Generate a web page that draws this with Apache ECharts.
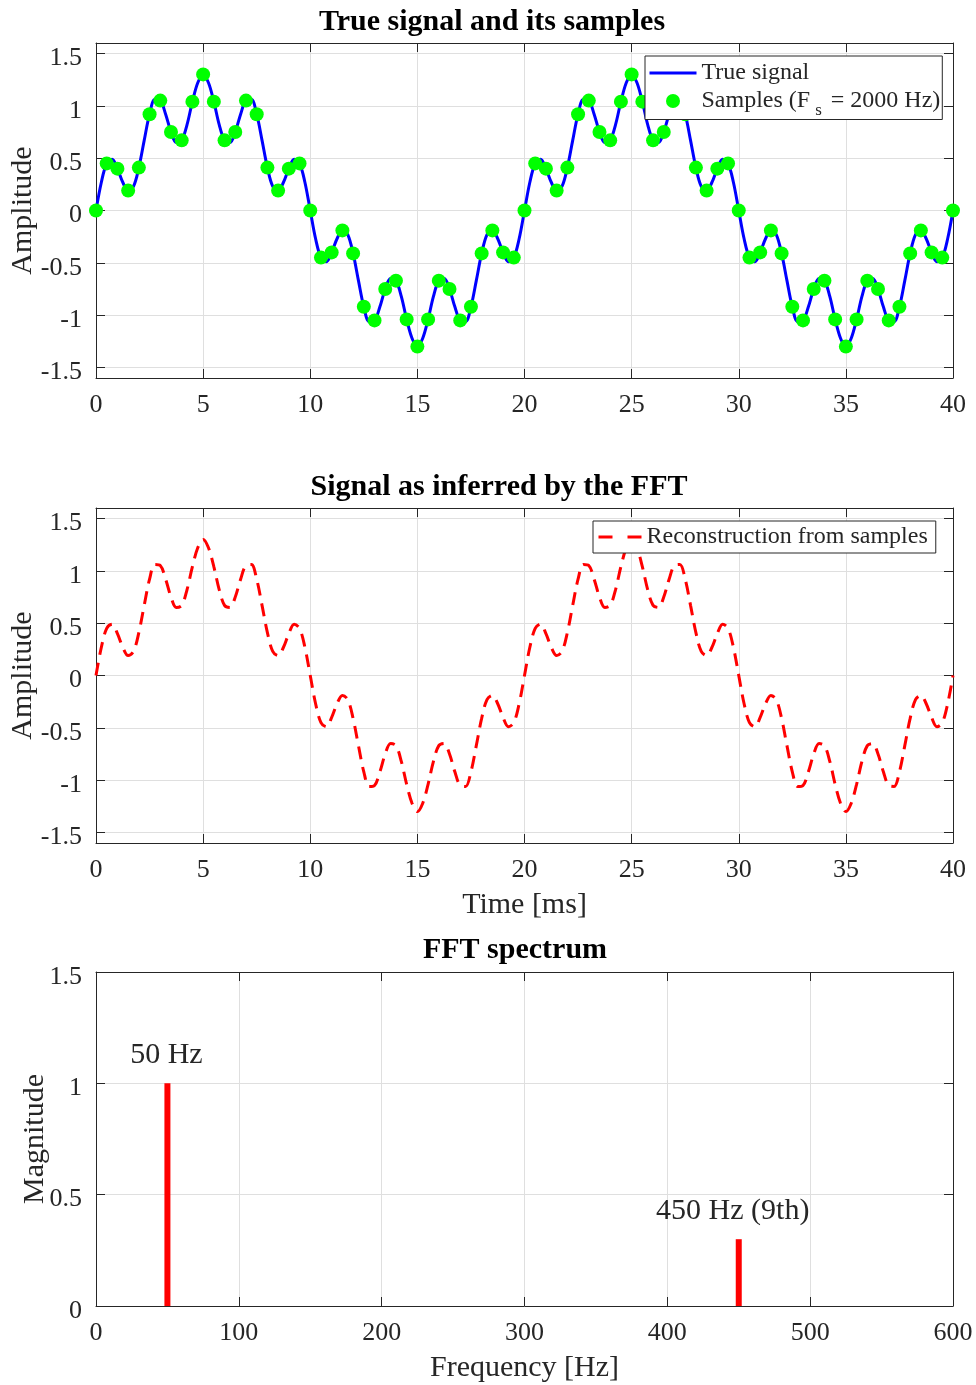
<!DOCTYPE html>
<html>
<head>
<meta charset="utf-8">
<title>Sampling and FFT of a 50 Hz signal with its 9th harmonic</title>
<script src="https://cdn.jsdelivr.net/npm/echarts@6/dist/echarts.min.js"></script>
<style>
  html, body { margin: 0; padding: 0; background: #ffffff; }
  #chart { width: 976px; height: 1385px; }
</style>
</head>
<body>
<div id="chart"></div>
<script>
// ---- data -------------------------------------------------------------
// Continuous signal, tabulated every 0.25 ms from 0 to 40 ms (amplitude)
const fineStepMs = 0.25;
const trueSignal = [
  0, 0.27, 0.45, 0.49, 0.40, 0.27, 0.19, 0.23, 0.41, 0.67,
  0.92, 1.06, 1.05, 0.92, 0.75, 0.65, 0.67, 0.82, 1.04, 1.22,
  1.30, 1.22, 1.04, 0.82, 0.67, 0.65, 0.75, 0.92, 1.05, 1.06,
  0.92, 0.67, 0.41, 0.23, 0.19, 0.27, 0.40, 0.49, 0.45, 0.27,
  0,
  -0.27, -0.45, -0.49, -0.40, -0.27, -0.19, -0.23, -0.41, -0.67, -0.92,
  -1.06, -1.05, -0.92, -0.75, -0.65, -0.67, -0.82, -1.04, -1.22, -1.30,
  -1.22, -1.04, -0.82, -0.67, -0.65, -0.75, -0.92, -1.05, -1.06, -0.92,
  -0.67, -0.41, -0.23, -0.19, -0.27, -0.40, -0.49, -0.45, -0.27, 0,
  0.27, 0.45, 0.49, 0.40, 0.27, 0.19, 0.23, 0.41, 0.67, 0.92,
  1.06, 1.05, 0.92, 0.75, 0.65, 0.67, 0.82, 1.04, 1.22, 1.30,
  1.22, 1.04, 0.82, 0.67, 0.65, 0.75, 0.92, 1.05, 1.06, 0.92,
  0.67, 0.41, 0.23, 0.19, 0.27, 0.40, 0.49, 0.45, 0.27, 0,
  -0.27, -0.45, -0.49, -0.40, -0.27, -0.19, -0.23, -0.41, -0.67, -0.92,
  -1.06, -1.05, -0.92, -0.75, -0.65, -0.67, -0.82, -1.04, -1.22, -1.30,
  -1.22, -1.04, -0.82, -0.67, -0.65, -0.75, -0.92, -1.05, -1.06, -0.92,
  -0.67, -0.41, -0.23, -0.19, -0.27, -0.40, -0.49, -0.45, -0.27, 0
];

// Samples taken at Fs = 2000 Hz, i.e. every 0.5 ms
const sampleStepMs = 0.5;
const samples = [
  0, 0.45, 0.40, 0.19, 0.41, 0.92, 1.05, 0.75, 0.67, 1.04,
  1.30, 1.04, 0.67, 0.75, 1.05, 0.92, 0.41, 0.19, 0.40, 0.45,
  0, -0.45, -0.40, -0.19, -0.41, -0.92, -1.05, -0.75, -0.67, -1.04,
  -1.30, -1.04, -0.67, -0.75, -1.05, -0.92, -0.41, -0.19, -0.40, -0.45,
  0, 0.45, 0.40, 0.19, 0.41, 0.92, 1.05, 0.75, 0.67, 1.04,
  1.30, 1.04, 0.67, 0.75, 1.05, 0.92, 0.41, 0.19, 0.40, 0.45,
  0, -0.45, -0.40, -0.19, -0.41, -0.92, -1.05, -0.75, -0.67, -1.04,
  -1.30, -1.04, -0.67, -0.75, -1.05, -0.92, -0.41, -0.19, -0.40, -0.45,
  0
];

// The FFT reconstruction from the samples coincides with the true signal
const reconstructed = trueSignal;

// Spectrum peaks
const peakFreqs = [50, 450];
const peakMagnitudes = [1, 0.3];
const peakLabels = ['50 Hz', '450 Hz (9th)'];

// Axis ticks
const amplitudeTicks = [-1.5, -1, -0.5, 0, 0.5, 1, 1.5];
const titles = ['True signal and its samples', 'Signal as inferred by the FFT', 'FFT spectrum'];

// ---- styling helpers -------------------------------------------------
const FONT = 'Liberation Serif';
const INK = '#262626';
const GRIDLINE = '#dfdfdf';
const TICK_FONT = 26;
const NAME_FONT = 30;
const peakLabelNudge = [[-1, 0], [-6, 0]];

function pairs(values, step) {
  return values.map((v, i) => [i * step, v]);
}

function xAxes(gridIndex, min, max, interval, name) {
  return [{
    type: 'value', gridIndex, min, max, interval, position: 'bottom',
    name: name || '', nameLocation: 'middle', nameGap: 47, nameMoveOverlap: false,
    nameTextStyle: { fontFamily: FONT, fontSize: NAME_FONT, color: INK },
    axisLine: { show: true, onZero: false, lineStyle: { color: INK, width: 1 } },
    axisTick: { show: true, inside: true, length: 9, lineStyle: { color: INK } },
    axisLabel: { show: true, margin: 14, fontFamily: FONT, fontSize: TICK_FONT, color: INK },
    splitLine: { show: true, lineStyle: { color: GRIDLINE, width: 1 } }
  }, {
    type: 'value', gridIndex, min, max, interval, position: 'top',
    axisLine: { show: true, onZero: false, lineStyle: { color: INK, width: 1 } },
    axisTick: { show: true, inside: true, length: 9, lineStyle: { color: INK } },
    axisLabel: { show: false },
    splitLine: { show: false }
  }];
}

function yAxes(gridIndex, min, max, ticks, interval, name, nameGap) {
  const tickOpt = ticks ? { customValues: ticks } : {};
  return [{
    type: 'value', gridIndex, min, max, interval, position: 'left',
    name, nameLocation: 'middle', nameGap, nameMoveOverlap: false,
    nameTextStyle: { fontFamily: FONT, fontSize: NAME_FONT, color: INK },
    axisLine: { show: true, onZero: false, lineStyle: { color: INK, width: 1 } },
    axisTick: Object.assign({ show: true, inside: true, length: 9, lineStyle: { color: INK } }, tickOpt),
    axisLabel: Object.assign({
      show: true, margin: 14, verticalAlign: 'top', lineHeight: 10,
      fontFamily: FONT, fontSize: TICK_FONT, color: INK
    }, tickOpt),
    splitLine: { show: true, lineStyle: { color: GRIDLINE, width: 1 } }
  }, {
    type: 'value', gridIndex, min, max, interval, position: 'right',
    axisLine: { show: true, onZero: false, lineStyle: { color: INK, width: 1 } },
    axisTick: Object.assign({ show: true, inside: true, length: 9, lineStyle: { color: INK } }, tickOpt),
    axisLabel: { show: false },
    splitLine: { show: false }
  }];
}

function gridAt(top, height) {
  return { left: 96, top, width: 857, height, outerBoundsMode: 'none', containLabel: false };
}

function titleAt(text, centerX, top) {
  return {
    text, left: centerX, top, textAlign: 'center', padding: 0,
    textStyle: { fontFamily: FONT, fontWeight: 'bold', fontSize: 30, color: '#000000' }
  };
}

const legendText = { fontFamily: FONT, fontSize: 24, color: INK };
// line-only legend swatch (no marker drawn on top of the line)
const noMarker = { color: 'rgba(0,0,0,0)', borderColor: 'rgba(0,0,0,0)', borderWidth: 0, opacity: 0 };

// ---- chart --------------------------------------------------------------
const chart = echarts.init(document.getElementById('chart'), null, { renderer: 'canvas' });

const option = {
  backgroundColor: '#ffffff',
  animation: false,
  title: [
    titleAt(titles[0], 492, 7),
    titleAt(titles[1], 499, 472),
    titleAt(titles[2], 515, 935)
  ],
  grid: [
    gridAt(43, 335),
    gridAt(508, 335),
    gridAt(972, 334)
  ],
  xAxis: [
    ...xAxes(0, 0, 40, 5),
    ...xAxes(1, 0, 40, 5, 'Time [ms]'),
    ...xAxes(2, 0, 600, 100, 'Frequency [Hz]')
  ],
  yAxis: [
    ...yAxes(0, -1.6, 1.6, amplitudeTicks, undefined, 'Amplitude', 58),
    ...yAxes(1, -1.6, 1.6, amplitudeTicks, undefined, 'Amplitude', 58),
    ...yAxes(2, 0, 1.5, null, 0.5, 'Magnitude', 46)
  ],
  legend: [
    {
      orient: 'vertical', left: 645, top: 56,
      itemWidth: 47, itemHeight: 14, itemGap: 4,
      padding: [5, 2, 0, 3],
      borderColor: INK, borderWidth: 1, backgroundColor: '#ffffff',
      selectedMode: false,
      data: [
        { name: 'True signal', itemStyle: noMarker, lineStyle: { color: '#0000ff', width: 3 } },
        { name: 'Samples (F_s = 2000 Hz)' }
      ],
      formatter: name => name.replace('F_s', 'F{sub|s}'),
      textStyle: Object.assign({}, legendText, {
        rich: {
          sub: { fontFamily: FONT, fontSize: 17, color: INK, padding: [20, 3, 0, 5] }
        }
      })
    },
    {
      orient: 'vertical', left: 593, top: 521,
      itemWidth: 43, itemHeight: 14,
      padding: [4, 8, 4, 4],
      borderColor: INK, borderWidth: 1, backgroundColor: '#ffffff',
      selectedMode: false,
      data: [{ name: 'Reconstruction from samples', itemStyle: noMarker, lineStyle: { color: '#ff0000', type: [14, 15], width: 3 } }],
      textStyle: legendText
    }
  ],
  series: [
    {
      name: 'True signal', type: 'line', xAxisIndex: 0, yAxisIndex: 0,
      data: pairs(trueSignal, fineStepMs),
      smooth: 0.35, symbol: 'none',
      lineStyle: { color: '#0000ff', width: 3 },
      itemStyle: { color: '#0000ff' },
      z: 2
    },
    {
      name: 'Samples (F_s = 2000 Hz)', type: 'scatter', xAxisIndex: 0, yAxisIndex: 0,
      data: pairs(samples, sampleStepMs),
      symbol: 'circle', symbolSize: 14,
      itemStyle: { color: '#00ff00', opacity: 1 },
      z: 3
    },
    {
      name: 'Reconstruction from samples', type: 'line', xAxisIndex: 2, yAxisIndex: 2,
      data: pairs(reconstructed, fineStepMs),
      smooth: 0.35, symbol: 'none',
      lineStyle: { color: '#ff0000', width: 3, type: [13, 8] },
      itemStyle: { color: '#ff0000' },
      z: 2
    },
    {
      name: 'FFT magnitude', type: 'bar', xAxisIndex: 4, yAxisIndex: 4,
      data: peakFreqs.map((f, i) => ({
        value: [f, peakMagnitudes[i]],
        label: { offset: peakLabelNudge[i] }
      })),
      barWidth: 6,
      itemStyle: { color: '#ff0000' },
      label: {
        show: true, position: 'top', distance: 13,
        fontFamily: FONT, fontSize: 30, color: INK,
        formatter: p => peakLabels[p.dataIndex]
      },
      z: 2
    }
  ]
};

chart.setOption(option);
</script>
</body>
</html>
